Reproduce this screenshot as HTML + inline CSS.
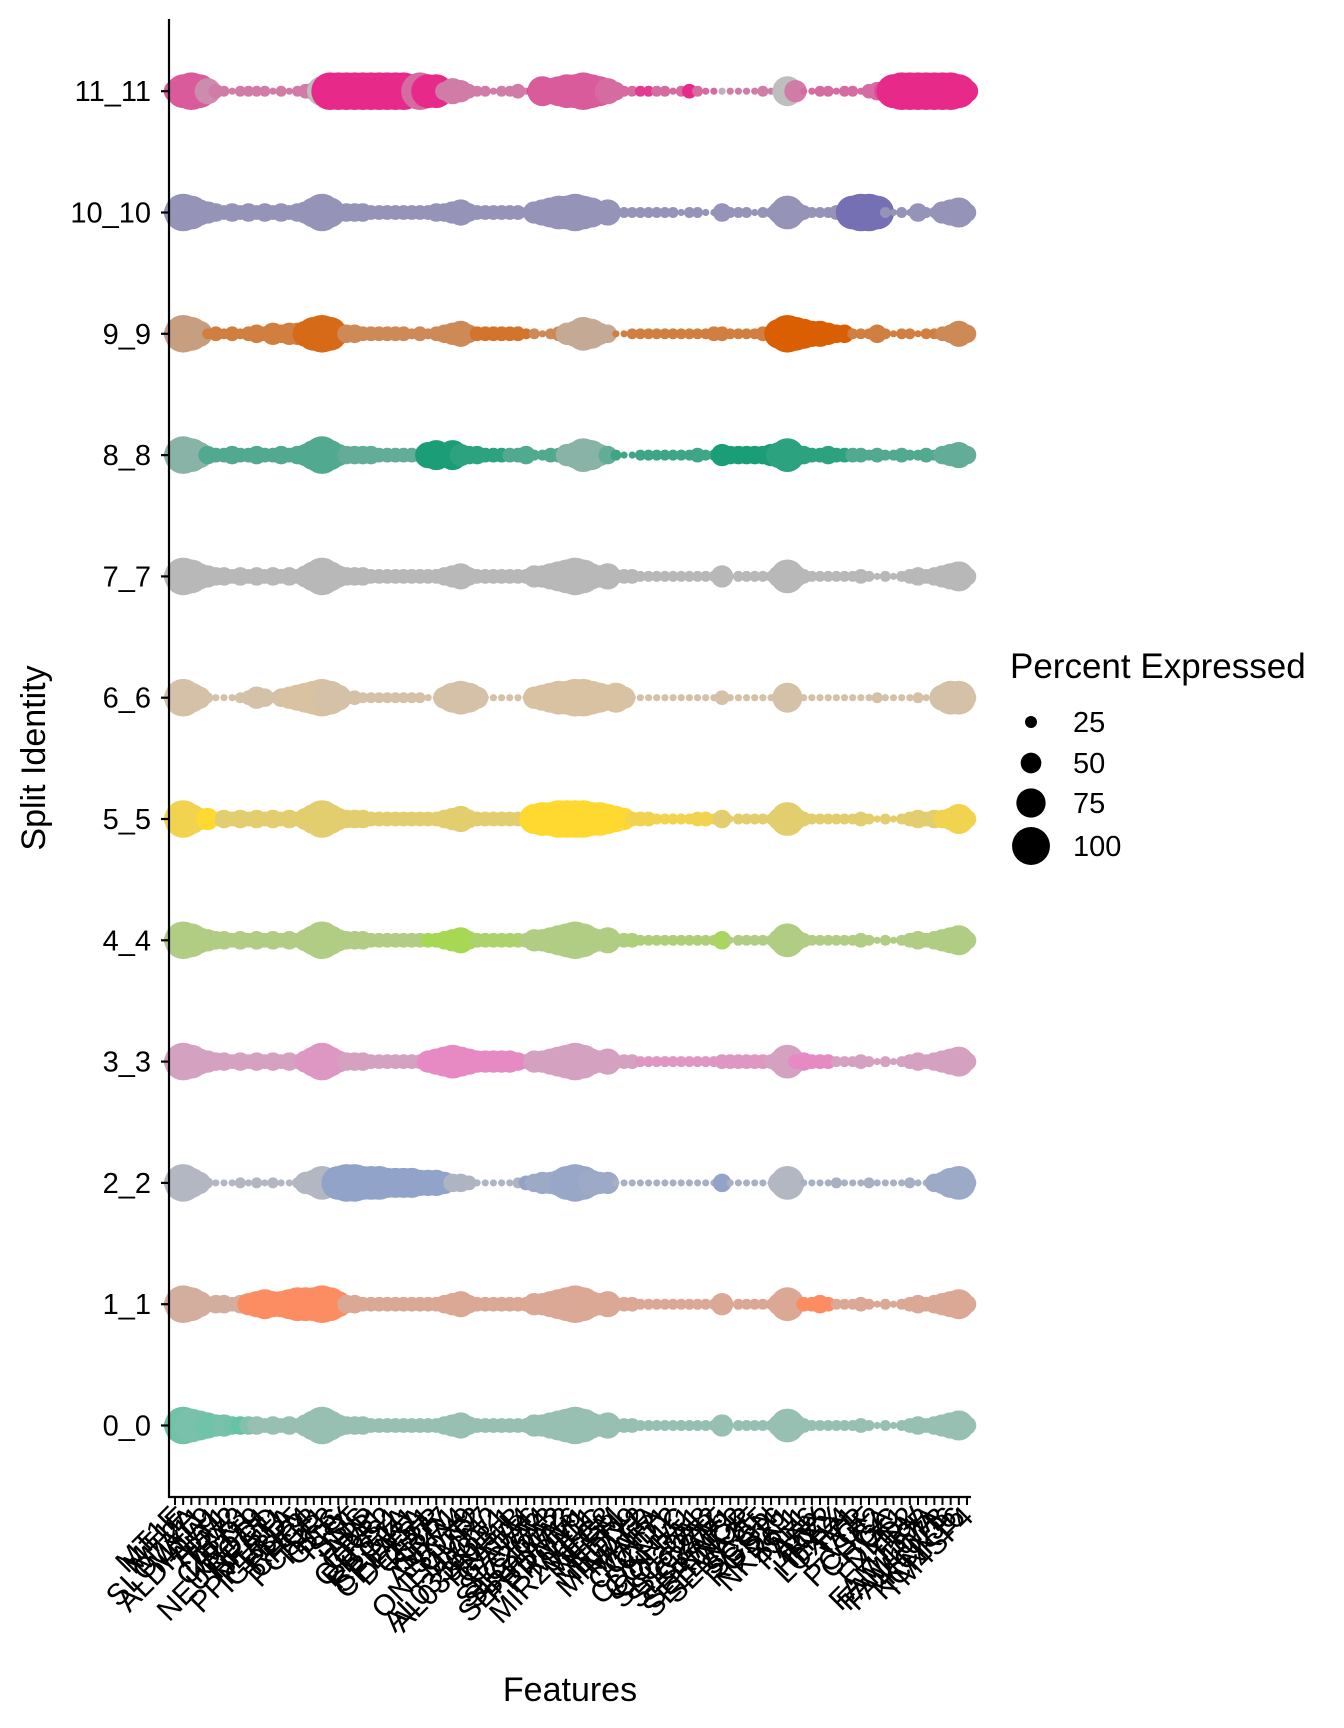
<!DOCTYPE html>
<html><head><meta charset="utf-8"><style>
html,body{margin:0;padding:0;background:#fff;}
svg{display:block;font-family:"Liberation Sans",Arial,sans-serif;}
</style></head><body>
<svg id="chart" width="1344" height="1728" viewBox="0 0 1344 1728" xmlns="http://www.w3.org/2000/svg">
<rect width="1344" height="1728" fill="#fff"/>
<g id="dots"></g>
<g id="axes"></g>
<g id="legend"></g>
</svg>
<script>
const identities = ["0_0","1_1","2_2","3_3","4_4","5_5","6_6","7_7","8_8","9_9","10_10","11_11"];
const rowColors = ["#66c2a5","#fc8d62","#8da0cb","#e78ac3","#a6d854","#ffd92f","#e5c494","#b3b3b3","#1b9e77","#d95f02","#7570b3","#e7298a"];
const features = ["MT1F","MT1E","MT2A","SLC7A11","MYL9","ALDH1A1","ALT1","TPM2","TBX3","CALD1","KRT19","NEUROD1","HPGD","NEAT1","PPP1R1A","IGFBP5","RBP4","CHGB","PCSK1","TFF3","GCG","PPY","SST","INS","IAPP","CPA1","CTRB2","PRSS1","REG1A","SPINK1","CELA3A","DEFB1","CFTR","KRT7","SPP1","ANXA4","SOX9","ONECUT2","MMP7","LCN2","AL035661.1","AL033523.1","HNF1B","GATA4","GATA6","SLC4A4","SLC26A3","SLC12A2","SERPINA3","PRDM16","PROM1","MUC1","MIR205HG","MEG3","NEFM","NEFL","NEDD9","MINDY2","MAFB","MAFA","CCND1","CCL2","CDKN1C","COL1A1","COL3A1","SLC30A8","SLC2A2","SLC38A5","SKAP1","SERINC2","SELENOP","SEMA3E","SCG5","SCGN","RGS16","PDX1","NKX6-1","ISL1","PAX6","ARX","IRX2","HHEX","LOXL4","ETV1","TTR","VGF","PCSK2","CHGA","GC","DLK1","FXYD2","FEV","FAM159B","FAM107A","FAM107B","KCNJ6","KCNK16","TM4SF4"];
const pctRows = [
"5987655444"+"4343435797"+"5444333333"+"3334564333"+"3333556789"+"8656333222"+"2222222512"+"2222585322"+"2222321212"+"34345674",
"5986244345"+"6766788898"+"6443333333"+"3334564333"+"3333556789"+"8656333222"+"2222222512"+"2222584334"+"3222321212"+"34345674",
"5975211121"+"2121125687"+"8998887777"+"6665443111"+"1123455689"+"8655111111"+"1111111411"+"1111584111"+"1211121111"+"21145784",
"5986544343"+"4343435797"+"5444333333"+"3567876555"+"5543556789"+"8656333222"+"2222222333"+"3333583433"+"3222321212"+"34345674",
"5986544343"+"4343435797"+"5444333333"+"3334564333"+"3333556789"+"8656333222"+"2222222412"+"2222585322"+"2222321212"+"34345674",
"5975534343"+"4343435797"+"5444333333"+"3334564333"+"3333788999"+"9887653332"+"2222332412"+"2222585322"+"2222321212"+"34344574",
"5975211123"+"5424567898"+"6332222222"+"2115787511"+"1111567889"+"9876751111"+"1111111311"+"1111373111"+"1111112111"+"12116884",
"5986544343"+"4343435797"+"5444333333"+"3334564333"+"3333556789"+"8656333222"+"2222222512"+"2222585322"+"2222321212"+"34345674",
"5986433433"+"4334345797"+"5444433333"+"3675754433"+"3334223356"+"8754211222"+"2222322544"+"4445685433"+"4333323223"+"22324564",
"5986232323"+"4354556898"+"5443333332"+"3234564333"+"3332212356"+"8754112222"+"2222223322"+"2233798766"+"5442224212"+"21223464",
"5986543434"+"3434345797"+"4444333333"+"3344564333"+"3332567889"+"8756222222"+"2212211422"+"2122585322"+"2328998212"+"14225674",
"5898632122"+"2212123479"+"9999999998"+"9884653221"+"2231376788"+"9876422222"+"2123211111"+"1121175112"+"2122134589"+"99999985"
];
const exprRows = [
"8877887896"+"4444444444"+"4444444444"+"4444444444"+"4444444444"+"4444444444"+"4444444444"+"4444444444"+"4444444444"+"44444444",
"3333333339"+"9999999999"+"9444444444"+"4444444444"+"4444444444"+"4444444444"+"4444444444"+"4444444999"+"9444444444"+"44444444",
"2222222222"+"2222222222"+"8888888888"+"8888333333"+"3338666677"+"7666444444"+"4444444844"+"4444222444"+"4444444444"+"44466666",
"5555555555"+"5555557777"+"7555555555"+"5999999999"+"9999555555"+"5555555777"+"7777777777"+"7775559999"+"9555555555"+"55555555",
"5555555555"+"5555555555"+"5555555555"+"5999999777"+"7775555555"+"5555556666"+"6666666855"+"5555555555"+"5555555555"+"55555555",
"7777995555"+"5555555555"+"5555555555"+"5555555555"+"5555999999"+"9999997777"+"7777777555"+"5555555555"+"5555555555"+"55557777",
"5555555555"+"5555666665"+"5555555555"+"5555555555"+"5555666666"+"6666665555"+"5555555555"+"5555555555"+"5555555555"+"55555555",
"5555555555"+"5555555555"+"5555555555"+"5555555555"+"5555555555"+"5555555555"+"5555555555"+"5555555555"+"5555555555"+"55555555",
"3333666666"+"6666666666"+"6555555555"+"5999988888"+"8666666633"+"3335777777"+"7777777999"+"9999888888"+"8886666666"+"66665555",
"3333666666"+"6666668888"+"8555555555"+"5555555777"+"7777555522"+"2222666666"+"6666666666"+"6666999999"+"9996666666"+"66665555",
"5555555555"+"5555555555"+"5555555555"+"5555555555"+"5555555555"+"5555555555"+"5555555555"+"5555555555"+"5559999555"+"55555555",
"6666344444"+"4444444409"+"9999999999"+"5994444444"+"4444966666"+"6665555885"+"5559555144"+"4444404555"+"5555555799"+"99999999"
];
const legendValues = [25,50,75,100];

const NS = "http://www.w3.org/2000/svg";
const plotL = 169, plotR = 971, plotT = 19, plotB = 1497;
const x0 = 175, xStep = (967 - 175) / (features.length - 1);
const yBottom = 1425.5, yStep = 121.3;
function xScale(i){ return x0 + i * xStep; }
function yScale(k){ return yBottom - k * yStep; }
function rScale(p){ return 0.173 * p + 1.67; }
function hex(c){ return [parseInt(c.substr(1,2),16),parseInt(c.substr(3,2),16),parseInt(c.substr(5,2),16)]; }
function mix(base, t){
  const lo = [190,190,190], b = hex(base);
  return "rgb(" + lo.map((v,j)=>Math.round(v + (b[j]-v)*t)).join(",") + ")";
}
function mk(tag, attrs, parent){
  const e = document.createElementNS(NS, tag);
  for (const k in attrs) e.setAttribute(k, attrs[k]);
  parent.appendChild(e); return e;
}
const dots = document.getElementById("dots");
for (let k = 0; k < identities.length; k++) {
  const sizes = pctRows[k], ex = exprRows[k];
  for (let i = 0; i < features.length; i++) {
    const pct = Number(sizes[i]) * 11;
    const c = mk("circle", {cx: xScale(i), cy: yScale(k), r: rScale(pct), fill: mix(rowColors[k], Number(ex[i]) / 9)}, dots);
    
    
  }
}
const axes = document.getElementById("axes");
const ya = mk("line", {x1: plotL, y1: plotT, x2: plotL, y2: plotB + 1, stroke: "#000", "stroke-width": 2.2}, axes);


const xa = mk("line", {x1: plotL - 1, y1: plotB, x2: plotR, y2: plotB, stroke: "#000", "stroke-width": 2.2}, axes);


for (let k = 0; k < identities.length; k++) {
  const y = yScale(k);
  const t = mk("line", {x1: plotL - 8, y1: y, x2: plotL, y2: y, stroke: "#000", "stroke-width": 2.2}, axes);
  
  
  const l = mk("text", {x: 151, y: y + 10, "text-anchor": "end", "font-size": 29, fill: "#000"}, axes);
  l.textContent = identities[k];
  
  
}
for (let i = 0; i < features.length; i++) {
  const x = xScale(i);
  const t = mk("line", {x1: x, y1: plotB, x2: x, y2: plotB + 8, stroke: "#000", "stroke-width": 2}, axes);
  
  
  const l = mk("text", {x: x + 8, y: plotB + 22, "text-anchor": "end", "font-size": 30, fill: "#000", transform: "rotate(-45 " + (x + 8) + " " + (plotB + 22) + ")"}, axes);
  l.textContent = features[i];
  
  
}
const yt = mk("text", {x: 0, y: 0, "text-anchor": "middle", "font-size": 34, fill: "#000", transform: "translate(45 758) rotate(-90)"}, axes);
yt.textContent = "Split Identity";


const xt = mk("text", {x: 570, y: 1701, "text-anchor": "middle", "font-size": 34, fill: "#000"}, axes);
xt.textContent = "Features";


const lg = document.getElementById("legend");
const lt = mk("text", {x: 1010, y: 678, "font-size": 35, fill: "#000"}, lg);
lt.textContent = "Percent Expressed";


const legendY = [722, 763, 803, 846];
legendValues.forEach((v, j) => {
  const c = mk("circle", {cx: 1031, cy: legendY[j], r: rScale(v), fill: "#000"}, lg);
  
  
  const t = mk("text", {x: 1073, y: legendY[j] + 10, "font-size": 29, fill: "#000"}, lg);
  t.textContent = String(v);
  
  
});
</script>
</body></html>
